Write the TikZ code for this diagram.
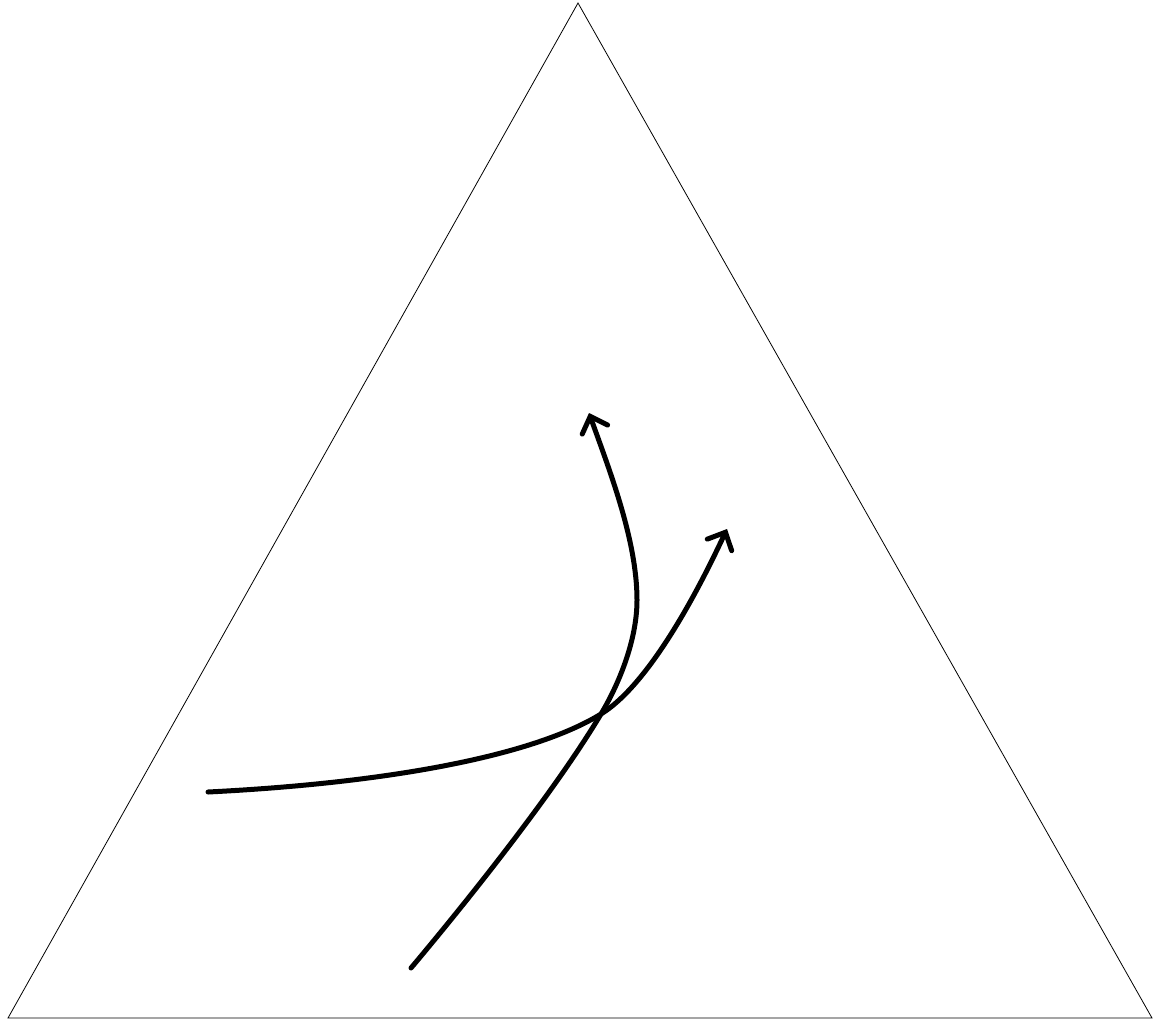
\documentclass[tikz,border=0pt]{standalone}
\usetikzlibrary{arrows.meta}
\begin{document}
\begin{tikzpicture}[x=1pt,y=-1pt,
  tri/.style={draw=black,line width=0.8pt},
  flow/.style={draw=black,line width=5pt,line cap=round,line join=round,-{Straight Barb[length=14pt,width=27pt,line cap=round]}}]
\useasboundingbox (0,0) rectangle (1156,1023);
\coordinate (A) at (578,3);
\coordinate (B) at (8,1018);
\coordinate (C) at (1152,1018);
\draw[tri] (A) -- (B) -- (C) -- cycle;
\coordinate (s1) at (411,968);
\coordinate (e1) at (589,413);
\coordinate (s2) at (208,792);
\coordinate (e2) at (727,529);
\coordinate (x) at (601,714);
\coordinate (m1) at (637,600);
\draw[flow] (s1) .. controls (469,899) and (555,791) .. (x)
  .. controls (619,684) and (637,640) .. (m1)
  .. controls (637,540) and (609,469) .. (e1);
\draw[flow] (s2) .. controls (388,783) and (533,756) .. (x)
  .. controls (656,680) and (710,565) .. (e2);
\end{tikzpicture}
\end{document}
